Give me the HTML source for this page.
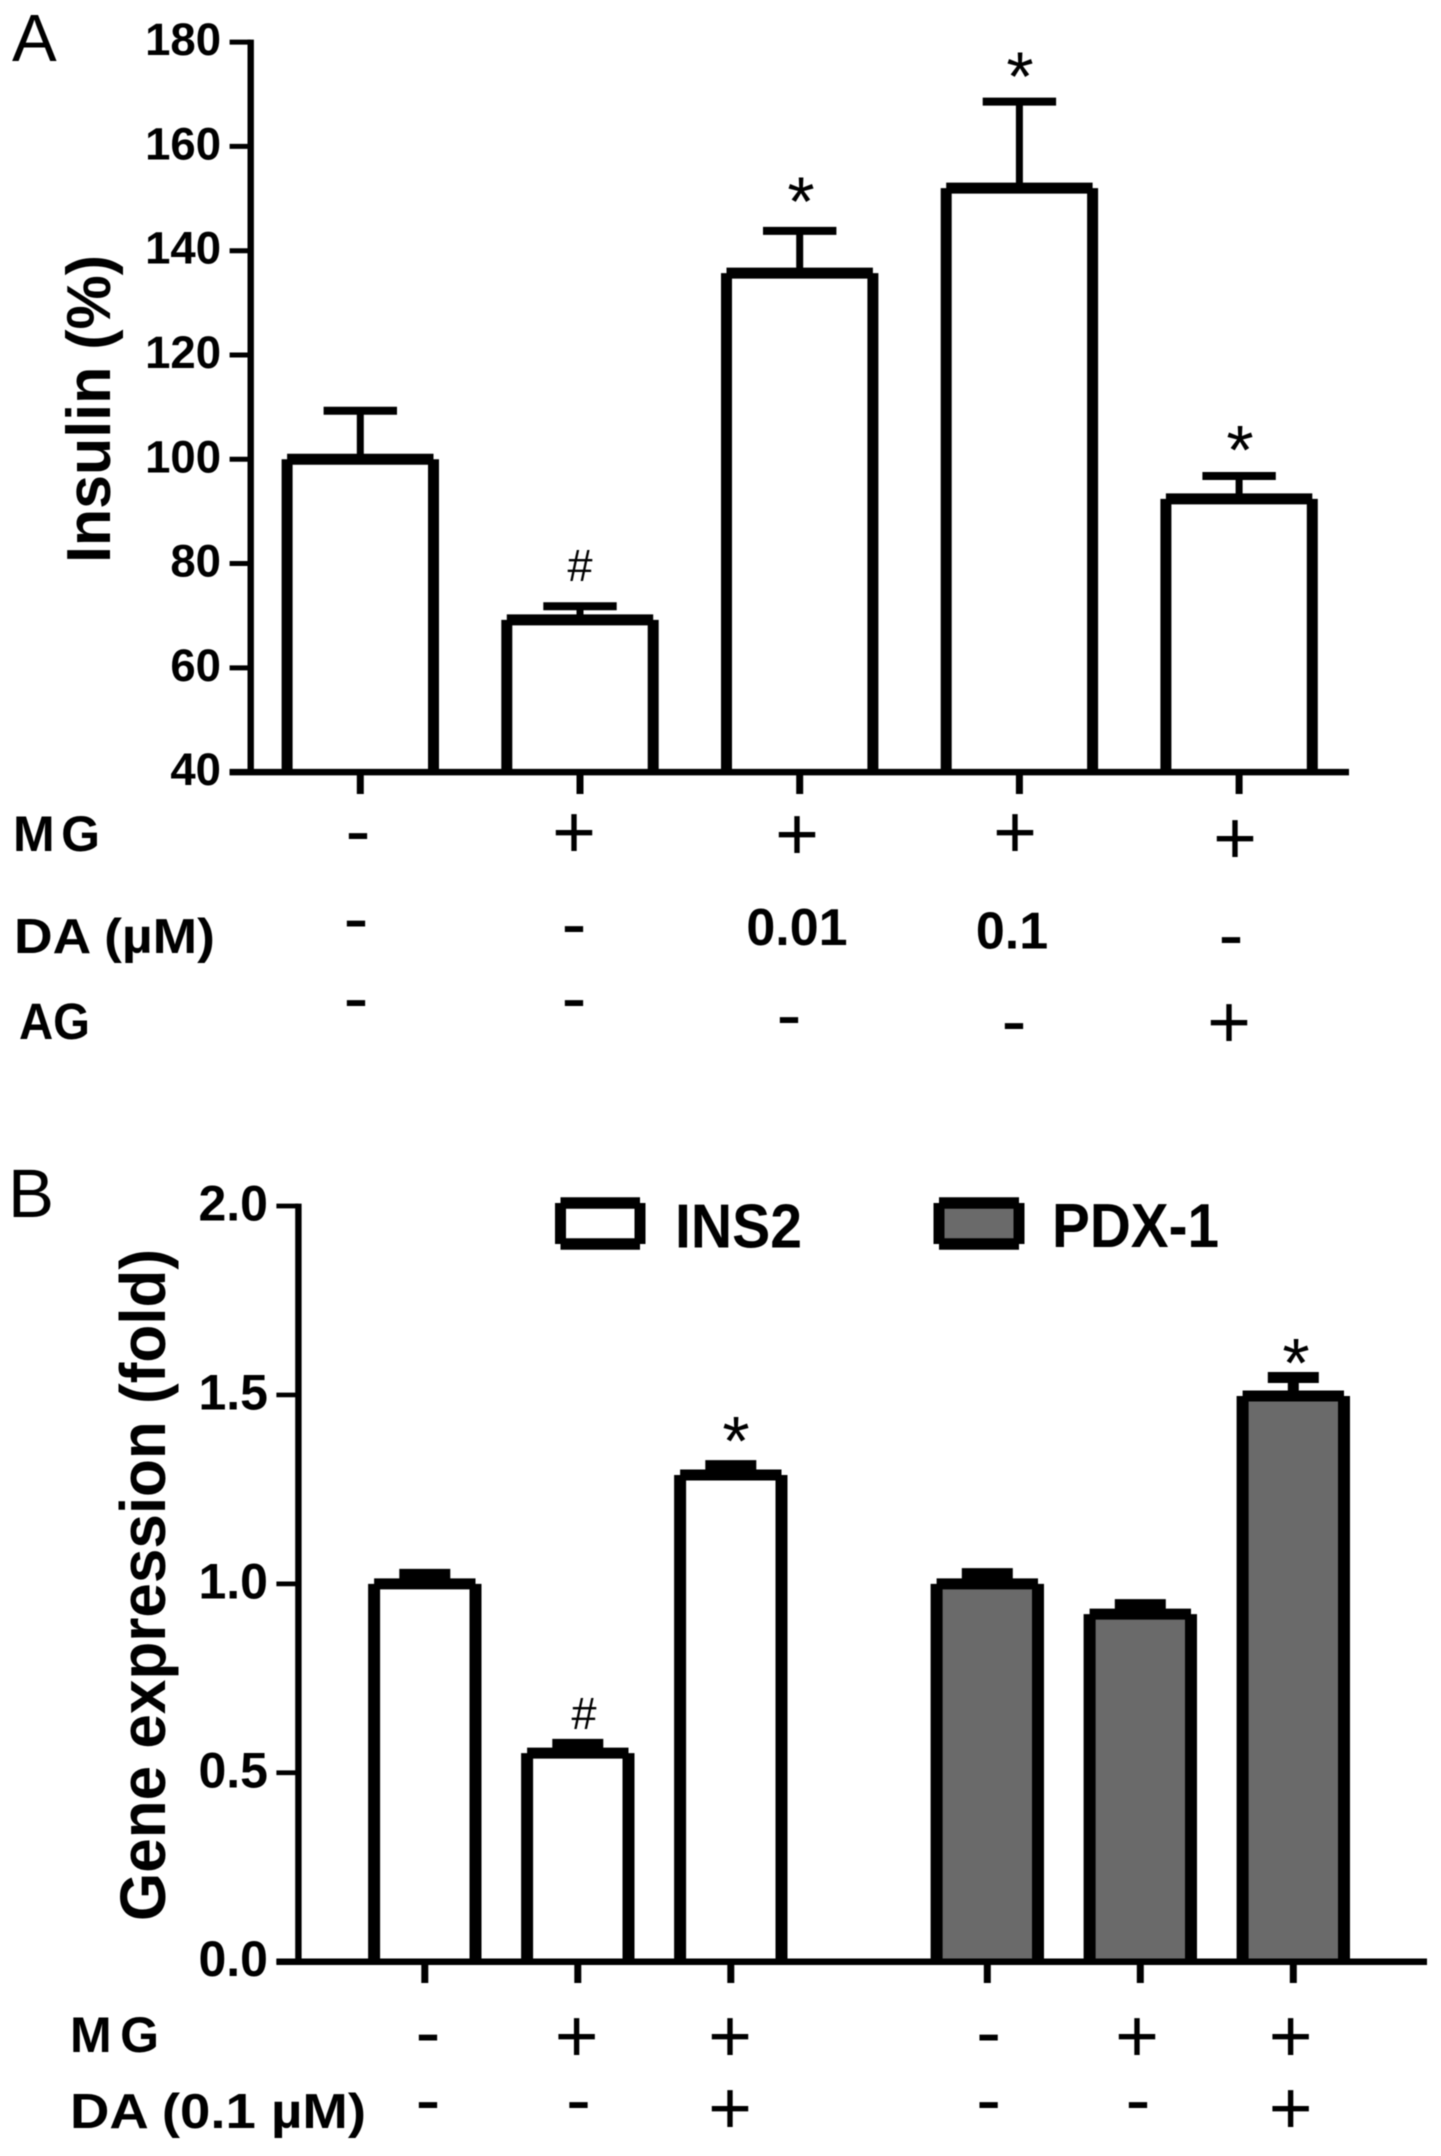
<!DOCTYPE html>
<html>
<head>
<meta charset="utf-8">
<title>Insulin and gene expression bar charts</title>
<style>
html,body{margin:0;padding:0;background:#fff;}
svg{display:block;filter:blur(0.55px);}
text{font-family:"Liberation Sans",sans-serif;fill:#000;}
.b{font-weight:bold;}
.sym{font-size:75px;text-anchor:middle;}
.ann{text-anchor:middle;}
</style>
</head>
<body>
<svg id="figure" width="1441" height="2156" viewBox="0 0 1441 2156" xmlns="http://www.w3.org/2000/svg">
  <rect width="1441" height="2156" fill="#fff"/>

  <text x="12" y="61" font-size="67">A</text>
  <text x="8" y="1217" font-size="69">B</text>

  <text class="b" font-size="62" transform="translate(110,563) rotate(-90)" textLength="308" lengthAdjust="spacingAndGlyphs">Insulin (%)</text>
  <text class="b" font-size="64" transform="translate(165,1921) rotate(-90)" textLength="672" lengthAdjust="spacingAndGlyphs">Gene expression (fold)</text>

  <g id="chartA"></g>
  <g id="chartB"></g>

  <!-- Panel A annotations -->
  <text class="ann" x="580" y="581" font-size="45">#</text>
  <text class="ann" x="801" y="225.5" font-size="70">*</text>
  <text class="ann" x="1020" y="100.5" font-size="70">*</text>
  <text class="ann" x="1240" y="474" font-size="70">*</text>

  <!-- Panel A condition rows -->
  <text class="b" x="13" y="851" font-size="50" textLength="87" lengthAdjust="spacing">MG</text>
  <text class="b" x="14" y="953" font-size="49" textLength="201" lengthAdjust="spacingAndGlyphs">DA (µM)</text>
  <text class="b" x="19" y="1039" font-size="51" textLength="71" lengthAdjust="spacingAndGlyphs">AG</text>

  <text class="sym" x="358" y="856">-</text>
  <text class="sym" x="574" y="857.5">+</text>
  <text class="sym" x="797" y="859.5">+</text>
  <text class="sym" x="1015" y="857.5">+</text>
  <text class="sym" x="1235" y="863.5">+</text>

  <text class="sym" x="356" y="943.5">-</text>
  <text class="sym" x="574" y="949">-</text>
  <text class="b" x="797" y="945" font-size="52" text-anchor="middle">0.01</text>
  <text class="b" x="1012" y="948.5" font-size="52" text-anchor="middle">0.1</text>
  <text class="sym" x="1231" y="960">-</text>

  <text class="sym" x="356" y="1023">-</text>
  <text class="sym" x="574" y="1023">-</text>
  <text class="sym" x="789" y="1040">-</text>
  <text class="sym" x="1014" y="1046">-</text>
  <text class="sym" x="1229" y="1047.5">+</text>

  <!-- Panel B legend -->
  <g>
    <rect x="560.5" y="1203" width="79.5" height="41" fill="#fff"/>
    <line x1="560.5" y1="1203" x2="560.5" y2="1244" stroke="#000" stroke-width="11"/>
    <line x1="640" y1="1203" x2="640" y2="1244" stroke="#000" stroke-width="11"/>
    <line x1="560.5" y1="1203" x2="640" y2="1203" stroke="#000" stroke-width="11.5"/>
    <line x1="560.5" y1="1244" x2="640" y2="1244" stroke="#000" stroke-width="11.5"/>
    <text class="b" x="675" y="1247.5" font-size="62" textLength="127" lengthAdjust="spacingAndGlyphs">INS2</text>
  </g>
  <g>
    <rect x="939" y="1203" width="80" height="41" fill="#6a6a6a"/>
    <line x1="939" y1="1203" x2="939" y2="1244" stroke="#000" stroke-width="11"/>
    <line x1="1019" y1="1203" x2="1019" y2="1244" stroke="#000" stroke-width="11"/>
    <line x1="939" y1="1203" x2="1019" y2="1203" stroke="#000" stroke-width="11.5"/>
    <line x1="939" y1="1244" x2="1019" y2="1244" stroke="#000" stroke-width="11.5"/>
    <text class="b" x="1052" y="1247" font-size="62" textLength="167" lengthAdjust="spacingAndGlyphs">PDX-1</text>
  </g>

  <!-- Panel B annotations -->
  <text class="ann" x="584" y="1729" font-size="45">#</text>
  <text class="ann" x="736" y="1465" font-size="70">*</text>
  <text class="ann" x="1296" y="1387" font-size="70">*</text>

  <!-- Panel B condition rows -->
  <text class="b" x="70" y="2052" font-size="50" textLength="89" lengthAdjust="spacing">MG</text>
  <text class="b" x="70" y="2128" font-size="49" textLength="296" lengthAdjust="spacingAndGlyphs">DA (0.1 µM)</text>

  <text class="sym" x="428" y="2057.5">-</text>
  <text class="sym" x="576.7" y="2061.5">+</text>
  <text class="sym" x="730" y="2061.5">+</text>
  <text class="sym" x="988.6" y="2057.5">-</text>
  <text class="sym" x="1137" y="2061.5">+</text>
  <text class="sym" x="1290.7" y="2061.5">+</text>

  <text class="sym" x="428" y="2125">-</text>
  <text class="sym" x="578.5" y="2125">-</text>
  <text class="sym" x="730" y="2133.5">+</text>
  <text class="sym" x="988.6" y="2125">-</text>
  <text class="sym" x="1138" y="2125">-</text>
  <text class="sym" x="1290.7" y="2133.5">+</text>
</svg>

<script>
const insulinGroups = ['control', 'mg', 'mg-da-001', 'mg-da-01', 'mg-ag'];
const insulinMeans = [100, 69.2, 135.7, 152, 92.4];
const insulinUpper = [109.3, 71.8, 143.8, 168.6, 96.8];
const insulinTicks = [40, 60, 80, 100, 120, 140, 160, 180];
const insulinTickLabels = ['40', '60', '80', '100', '120', '140', '160', '180'];

const geneGroups = ['ins2-control', 'ins2-mg', 'ins2-mg-da', 'pdx1-control', 'pdx1-mg', 'pdx1-mg-da'];
const geneMeans = [1.0, 0.552, 1.288, 1.0, 0.92, 1.497];
const geneUpper = [1.025, 0.575, 1.313, 1.027, 0.945, 1.546];
const geneFills = ['#ffffff', '#ffffff', '#ffffff', '#6a6a6a', '#6a6a6a', '#6a6a6a'];
const geneTicks = [0, 0.5, 1, 1.5, 2];
const geneTickLabels = ['0.0', '0.5', '1.0', '1.5', '2.0'];

const NS = 'http://www.w3.org/2000/svg';

function yA(v) { return 772.1 - (v - 40) * 5.214; }
function xA(i) { return 360.3 + 219.7 * i; }
function yB(v) { return 1961.7 - v * 377.85; }
function xB(i) { return 424.8 + 153 * i + (i >= 3 ? 103.5 : 0); }

function make(parent, tag, attrs) {
  const el = document.createElementNS(NS, tag);
  for (const k in attrs) el.setAttribute(k, attrs[k]);
  parent.appendChild(el);
  return el;
}

function line(parent, x1, y1, x2, y2, w, name) {
  const el = make(parent, 'line', { x1: x1, y1: y1, x2: x2, y2: y2, stroke: '#000', 'stroke-width': w });
  
  
  return el;
}

function drawBar(parent, name, cx, halfW, yTop, yBase, yCap, capHalf, capW, stemW, sideW, fill) {
  const g = make(parent, 'g', {});
  
  
  const body = make(g, 'rect', { x: cx - halfW, y: yTop, width: halfW * 2, height: yBase - yTop, fill: fill });
  
  
  line(g, cx - halfW, yTop, cx - halfW, yBase, sideW, 'bar-left-' + name);
  line(g, cx + halfW, yTop, cx + halfW, yBase, sideW, 'bar-right-' + name);
  line(g, cx - halfW, yTop, cx + halfW, yTop, 11, 'bar-top-' + name);
  line(g, cx, yCap, cx, yTop, stemW, 'error-stem-' + name);
  line(g, cx - capHalf, yCap, cx + capHalf, yCap, capW, 'error-cap-' + name);
}

function tickLabel(parent, text, x, y, size, name) {
  const t = make(parent, 'text', { x: x, y: y, 'font-size': size, 'font-weight': 'bold', 'text-anchor': 'end' });
  t.textContent = text;
  
  
}

const chartA = document.getElementById('chartA');
insulinGroups.forEach(function (name, i) {
  drawBar(chartA, name, xA(i), 73.2, yA(insulinMeans[i]), yA(40), yA(insulinUpper[i]), 36.7, 8, 7, 11, '#ffffff');
  line(chartA, xA(i), yA(40), xA(i), 794, 7, 'x-tick-' + name);
});
line(chartA, 250.7, yA(180) - 2.5, 250.7, yA(40), 6.4, 'y-axis-line');
line(chartA, 229.6, yA(40), 1349, yA(40), 6.5, 'x-axis-line');
insulinTicks.forEach(function (v, i) {
  line(chartA, 229.6, yA(v), 250.7, yA(v), 5, 'y-tick-' + insulinTickLabels[i]);
  tickLabel(chartA, insulinTickLabels[i], 221, yA(v) + 13, 45.5, 'y-tick-label-' + insulinTickLabels[i]);
});

const chartB = document.getElementById('chartB');
geneGroups.forEach(function (name, i) {
  drawBar(chartB, name, xB(i), 50.7, yB(geneMeans[i]), yB(0), yB(geneUpper[i]), 25.5, 11, 11, 12, geneFills[i]);
  line(chartB, xB(i), yB(0), xB(i), 1983, 7, 'x-tick-' + name);
});
line(chartB, 298.4, yB(2) - 2.4, 298.4, yB(0), 6.4, 'y-axis-line-b');
line(chartB, 276.4, yB(0), 1427, yB(0), 6.5, 'x-axis-line-b');
geneTicks.forEach(function (v, i) {
  line(chartB, 276.4, yB(v), 298.4, yB(v), 4.7, 'y-tick-b-' + geneTickLabels[i]);
  tickLabel(chartB, geneTickLabels[i], 268, yB(v) + 14.5, 50, 'y-tick-label-b-' + geneTickLabels[i]);
});
</script>
</body>
</html>
